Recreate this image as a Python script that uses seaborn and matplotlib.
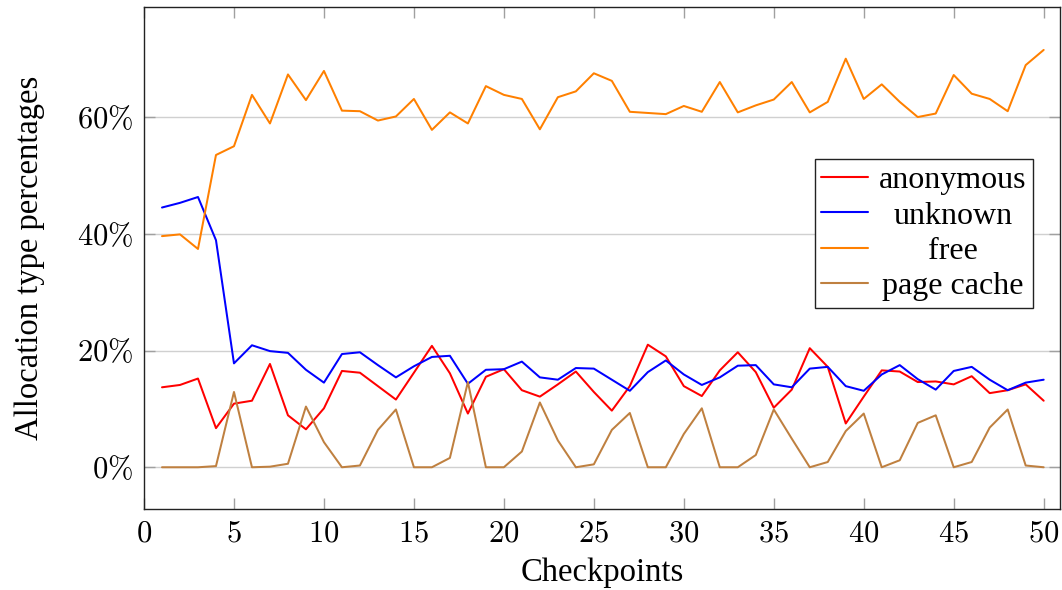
import numpy as np
import pandas as pd
import matplotlib
matplotlib.use("Agg")
import matplotlib.pyplot as plt
import seaborn as sns
from matplotlib.ticker import FuncFormatter

checkpoints = list(range(1, 51))

anonymous = [13.7, 14.1, 15.2, 6.7, 10.9, 11.4, 17.7, 8.9, 6.5, 10.1,
             16.5, 16.2, 13.9, 11.6, 16.2, 20.8, 16.1, 9.2, 15.5, 16.8,
             13.2, 12.1, 14.2, 16.4, 12.9, 9.7, 13.9, 21.0, 19.0, 13.9,
             12.2, 16.6, 19.7, 16.3, 10.2, 13.3, 20.4, 17.2, 7.5, 12.1,
             16.6, 16.4, 14.6, 14.7, 14.2, 15.6, 12.7, 13.2, 14.2, 11.4]
unknown = [44.5, 45.3, 46.3, 38.9, 17.8, 20.9, 19.9, 19.6, 16.7, 14.5,
           19.4, 19.7, 17.5, 15.4, 17.3, 18.9, 19.1, 14.3, 16.7, 16.8,
           18.1, 15.4, 15.0, 17.0, 16.9, 15.0, 13.1, 16.3, 18.3, 15.9,
           14.1, 15.4, 17.4, 17.5, 14.2, 13.7, 16.9, 17.2, 13.9, 13.1,
           15.9, 17.5, 15.1, 13.3, 16.5, 17.2, 15.0, 13.2, 14.5, 15.0]
free = [39.6, 39.9, 37.4, 53.5, 55.0, 63.8, 58.9, 67.3, 62.9, 67.9,
        61.1, 61.0, 59.4, 60.1, 63.1, 57.8, 60.8, 58.9, 65.3, 63.8,
        63.1, 57.9, 63.4, 64.4, 67.5, 66.2, 60.9, 60.7, 60.5, 61.9,
        60.9, 66.0, 60.8, 62.0, 63.0, 66.0, 60.8, 62.6, 70.0, 63.1,
        65.6, 62.6, 60.0, 60.6, 67.2, 64.0, 63.1, 61.0, 68.9, 71.5]
page_cache = [0.0, 0.0, 0.0, 0.2, 12.9, 0.0, 0.1, 0.6, 10.4, 4.3,
              0.0, 0.3, 6.4, 9.9, 0.0, 0.0, 1.6, 14.6, 0.0, 0.0,
              2.7, 11.1, 4.6, 0.0, 0.5, 6.4, 9.3, 0.0, 0.0, 5.7,
              10.1, 0.0, 0.0, 2.1, 9.9, 4.9, 0.0, 0.9, 6.2, 9.2,
              0.0, 1.2, 7.6, 8.9, 0.0, 0.9, 6.8, 9.9, 0.3, 0.0]

series_names = ["anonymous", "unknown", "free", "page cache"]
series_values = [anonymous, unknown, free, page_cache]
colors = ["#ff0000", "#0000ff", "#ff8000", "#bf8040"]

x_ticks = [0, 5, 10, 15, 20, 25, 30, 35, 40, 45, 50]
y_ticks = [0, 20, 40, 60]

df = pd.concat([
    pd.DataFrame({"Checkpoints": checkpoints, "value": vals, "type": name})
    for name, vals in zip(series_names, series_values)
], ignore_index=True)

sns.set_theme(style="white")
plt.rcParams["font.family"] = ["Liberation Serif", "DejaVu Serif"]
plt.rcParams["mathtext.fontset"] = "cm"
plt.rcParams["text.color"] = "black"
plt.rcParams["axes.labelcolor"] = "black"

fig = plt.figure(figsize=(10.62, 5.90), dpi=100)
ax = fig.add_axes([0.1356, 0.1368, 0.998 - 0.1356, 0.9876 - 0.1368])

sns.lineplot(data=df, x="Checkpoints", y="value", hue="type",
             hue_order=series_names, palette=colors, linewidth=1.45,
             ax=ax, legend=False)

ax.set_xlim(0, 50.9)
ax.set_ylim(-7.2, 78.8)
ax.set_xticks(x_ticks)
ax.set_yticks(y_ticks)
ax.xaxis.set_major_formatter(FuncFormatter(lambda v, p: r"$%d$" % v))
ax.yaxis.set_major_formatter(FuncFormatter(lambda v, p: r"$%d\%%$" % v))
ax.tick_params(axis="both", which="major", direction="in", length=8,
               width=1.0, color="#a0a0a0", labelsize=22, labelcolor="black",
               top=True, right=True, bottom=True, left=True)
ax.tick_params(axis="x", pad=7)
ax.tick_params(axis="y", pad=8)
ax.yaxis.grid(True, color="#d0d0d0", linewidth=1.0)
ax.xaxis.grid(False)
ax.set_axisbelow(True)
for sp in ax.spines.values():
    sp.set_color("#222222")
    sp.set_linewidth(1.0)

ax.set_xlabel("Checkpoints", fontsize=23.5, labelpad=7, color="black")
ax.set_ylabel("Allocation type percentages", fontsize=23.5, labelpad=23,
              color="black")

handles = [plt.Line2D([], [], color=c, linewidth=1.5) for c in colors]
leg = ax.legend(handles, series_names, loc="upper right",
                bbox_to_anchor=(0.9705, 0.697), borderaxespad=0,
                fontsize=23, frameon=True, fancybox=False,
                edgecolor="#222222", framealpha=1, handlelength=1.45,
                handletextpad=0.35, labelspacing=0.19, borderpad=0.2)
leg.get_frame().set_linewidth(1.0)
for t in leg.get_texts():
    t.set_color("black")

# center legend texts as in the original
fig.canvas.draw()
r = fig.canvas.get_renderer()
texts = leg.get_texts()
widths = [t.get_window_extent(r).width for t in texts]
mw = max(widths)
for t, w in zip(texts, widths):
    t.set_position(((mw - w) / 2.0, 0))

fig.savefig("out.png", dpi=100)
